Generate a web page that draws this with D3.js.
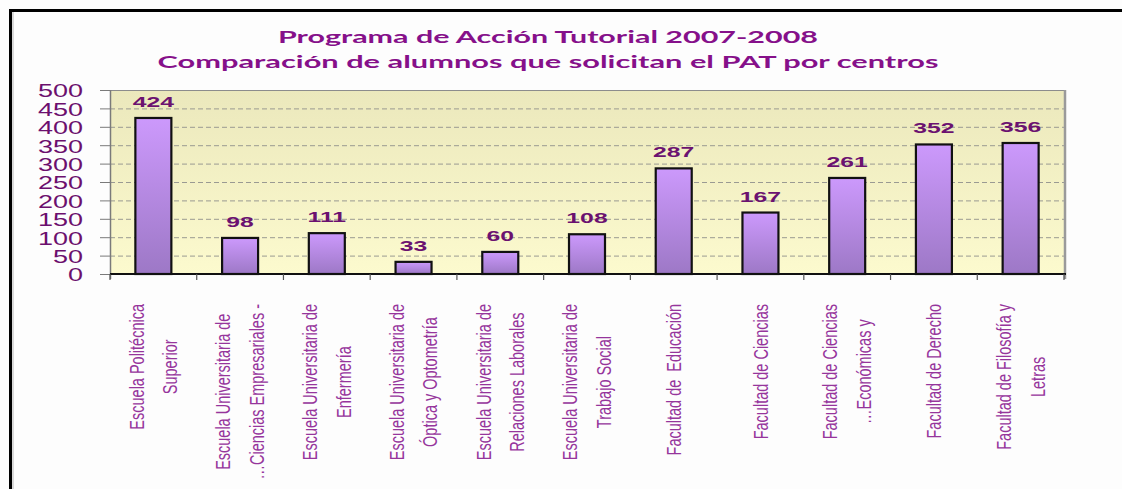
<!DOCTYPE html>
<html>
<head>
<meta charset="utf-8">
<script src="https://cdn.jsdelivr.net/npm/d3@7"></script>
<style>
  body { margin: 0; background: #fdfdfd; }
  svg { display: block; }
</style>
</head>
<body>
<svg id="chart"></svg>
<script>
// chart data
const titulo = ["Programa de Acción Tutorial 2007-2008",
                "Comparación de alumnos que solicitan el PAT por centros"];
const centros = [
    ["Escuela Politécnica", "Superior"],
    ["Escuela Universitaria de", "…Ciencias Empresariales -"],
    ["Escuela Universitaria de", "Enfermería"],
    ["Escuela Universitaria de", "Óptica y Optometría"],
    ["Escuela Universitaria de", "Relaciones Laborales"],
    ["Escuela Universitaria de", "Trabajo Social"],
    ["Facultad de  Educación"],
    ["Facultad de Ciencias"],
    ["Facultad de Ciencias", "…Económicas y"],
    ["Facultad de Derecho"],
    ["Facultad de Filosofía y", "Letras"]
];
const alumnos = [424, 98, 111, 33, 60, 108, 287, 167, 261, 352, 356];
const yTicks = [0, 50, 100, 150, 200, 250, 300, 350, 400, 450, 500];

const width = 1122, height = 489;
const plot = { left: 110, right: 1064, top: 90, bottom: 274 };

const svg = d3.select("#chart").attr("width", width).attr("height", height);

const x = d3.scaleBand()
    .domain(d3.range(alumnos.length))
    .range([plot.left, plot.right])
    .paddingInner(0.585)
    .paddingOuter(0.2925);

const y = d3.scaleLinear()
    .domain([0, 500])
    .range([plot.bottom, plot.top]);

// gradients
const defs = svg.append("defs");
const bg = defs.append("linearGradient").attr("id", "bgGrad")
    .attr("x1", 0).attr("y1", 0).attr("x2", 0).attr("y2", 1);
bg.append("stop").attr("offset", "0%").attr("stop-color", "#ebe8bc");
bg.append("stop").attr("offset", "100%").attr("stop-color", "#fcface");

const barGrad = defs.append("linearGradient").attr("id", "barGrad")
    .attr("x1", 0).attr("y1", 0).attr("x2", 0).attr("y2", 1);
barGrad.append("stop").attr("offset", "0%").attr("stop-color", "#cc99fc");
barGrad.append("stop").attr("offset", "100%").attr("stop-color", "#9d78c6");

// outer frame
svg.append("path")
    .attr("d", `M10.5,${height} L10.5,10.5 L${width},10.5`)
    .attr("fill", "none")
    .attr("stroke", "#000")
    .attr("stroke-width", 3);
svg.append("line")
    .attr("x1", 13).attr("x2", 13).attr("y1", 12).attr("y2", height)
    .attr("stroke", "#b5b5b5").attr("stroke-width", 1);

// title
svg.selectAll("text.title")
    .data(titulo)
    .enter()
    .append("text")
    .attr("class", "title")
    .attr("x", 548)
    .attr("y", (d, i) => 43 + i * 25)
    .attr("text-anchor", "middle")
    .attr("font-family", "Lato, 'Open Sans', sans-serif")
    .attr("font-weight", "bold")
    .attr("font-size", "17px")
    .attr("fill", "#86108a")
    .attr("textLength", (d, i) => i === 0 ? 540 : 781)
    .attr("lengthAdjust", "spacingAndGlyphs")
    .text(d => d);

// plot background
svg.append("rect")
    .attr("x", plot.left).attr("y", plot.top)
    .attr("width", plot.right - plot.left)
    .attr("height", plot.bottom - plot.top)
    .attr("fill", "url(#bgGrad)");

// gridlines
svg.selectAll("line.grid")
    .data(yTicks.filter(t => t > 0 && t < 500))
    .enter()
    .append("line")
    .attr("class", "grid")
    .attr("x1", plot.left).attr("x2", plot.right)
    .attr("y1", d => y(d) + 0.5).attr("y2", d => y(d) + 0.5)
    .attr("stroke", "#9a9a92")
    .attr("stroke-width", 1)
    .attr("stroke-dasharray", "5,3");

// plot border (top, right shadow)
svg.append("line")
    .attr("x1", plot.left).attr("x2", plot.right)
    .attr("y1", plot.top + 0.5).attr("y2", plot.top + 0.5)
    .attr("stroke", "#8c8c8c");
svg.append("line")
    .attr("x1", plot.right + 1).attr("x2", plot.right + 1)
    .attr("y1", plot.top).attr("y2", plot.bottom + 5)
    .attr("stroke", "#9a9a9a").attr("stroke-width", 2.5);

// y axis
svg.append("line")
    .attr("x1", plot.left + 0.5).attr("x2", plot.left + 0.5)
    .attr("y1", plot.top).attr("y2", plot.bottom + 5)
    .attr("stroke", "#7a7a7a").attr("stroke-width", 1.5);
svg.selectAll("line.ytick")
    .data(yTicks)
    .enter()
    .append("line")
    .attr("class", "ytick")
    .attr("x1", plot.left - 10).attr("x2", plot.left)
    .attr("y1", d => y(d) + 0.5).attr("y2", d => y(d) + 0.5)
    .attr("stroke", "#7a7a7a");
svg.selectAll("text.ylabel")
    .data(yTicks)
    .enter()
    .append("text")
    .attr("class", "ylabel")
    .attr("transform", d => `translate(83,${y(d) + 1}) scale(1.5,1)`)
    .attr("text-anchor", "end")
    .attr("dy", "0.36em")
    .attr("font-family", "'Liberation Sans', Arial, sans-serif")
    .attr("font-size", "18px")
    .attr("fill", "#6c0f6e")
    .text(d => d);

// bars
svg.selectAll("rect.bar")
    .data(alumnos)
    .enter()
    .append("rect")
    .attr("class", "bar")
    .attr("x", (d, i) => x(i))
    .attr("y", d => y(d))
    .attr("width", x.bandwidth())
    .attr("height", d => y(0) - y(d))
    .attr("fill", "url(#barGrad)")
    .attr("stroke", "#111")
    .attr("stroke-width", 2.2);

// value labels
svg.selectAll("text.value")
    .data(alumnos)
    .enter()
    .append("text")
    .attr("class", "value")
    .attr("transform", (d, i) => `translate(${x(i) + x.bandwidth() / 2},${y(d) - 11}) scale(1.65,1)`)
    .attr("text-anchor", "middle")
    .attr("font-family", "'Liberation Sans', Arial, sans-serif")
    .attr("font-weight", "bold")
    .attr("font-size", "15px")
    .attr("fill", "#6b1270")
    .text(d => d);

// x axis
svg.append("line")
    .attr("x1", plot.left).attr("x2", plot.right + 2)
    .attr("y1", plot.bottom).attr("y2", plot.bottom)
    .attr("stroke", "#111").attr("stroke-width", 1.8);
const slot = x.step();
const x0 = x(0) - slot * x.paddingInner() / 2;
svg.selectAll("line.xtick")
    .data(d3.range(alumnos.length + 1))
    .enter()
    .append("line")
    .attr("class", "xtick")
    .attr("x1", i => x0 + i * slot).attr("x2", i => x0 + i * slot)
    .attr("y1", plot.bottom).attr("y2", plot.bottom + 6)
    .attr("stroke", "#555").attr("stroke-width", 1.2);

// rotated category labels
const sx = 1.4, pitch = 24, labelTop = 304;
centros.forEach((lines, i) => {
    const cx = x(i) + x.bandwidth() / 2;
    const g = svg.append("g")
        .attr("transform", `translate(${cx},0) scale(${sx},1) rotate(-90)`);
    const texts = g.selectAll("text")
        .data(lines)
        .enter()
        .append("text")
        .attr("y", (d, k) => (k - (lines.length - 1) / 2) * pitch)
        .attr("dy", "0.35em")
        .attr("text-anchor", "middle")
        .attr("font-family", "'Liberation Sans', Arial, sans-serif")
        .attr("font-size", "14.5px")
        .attr("fill", "#96359c")
        .style("white-space", "pre")
        .text(d => d);
    const maxLen = d3.max(texts.nodes(), n => n.getComputedTextLength());
    texts.attr("x", -(labelTop + maxLen / 2));
});
</script>
</body>
</html>
